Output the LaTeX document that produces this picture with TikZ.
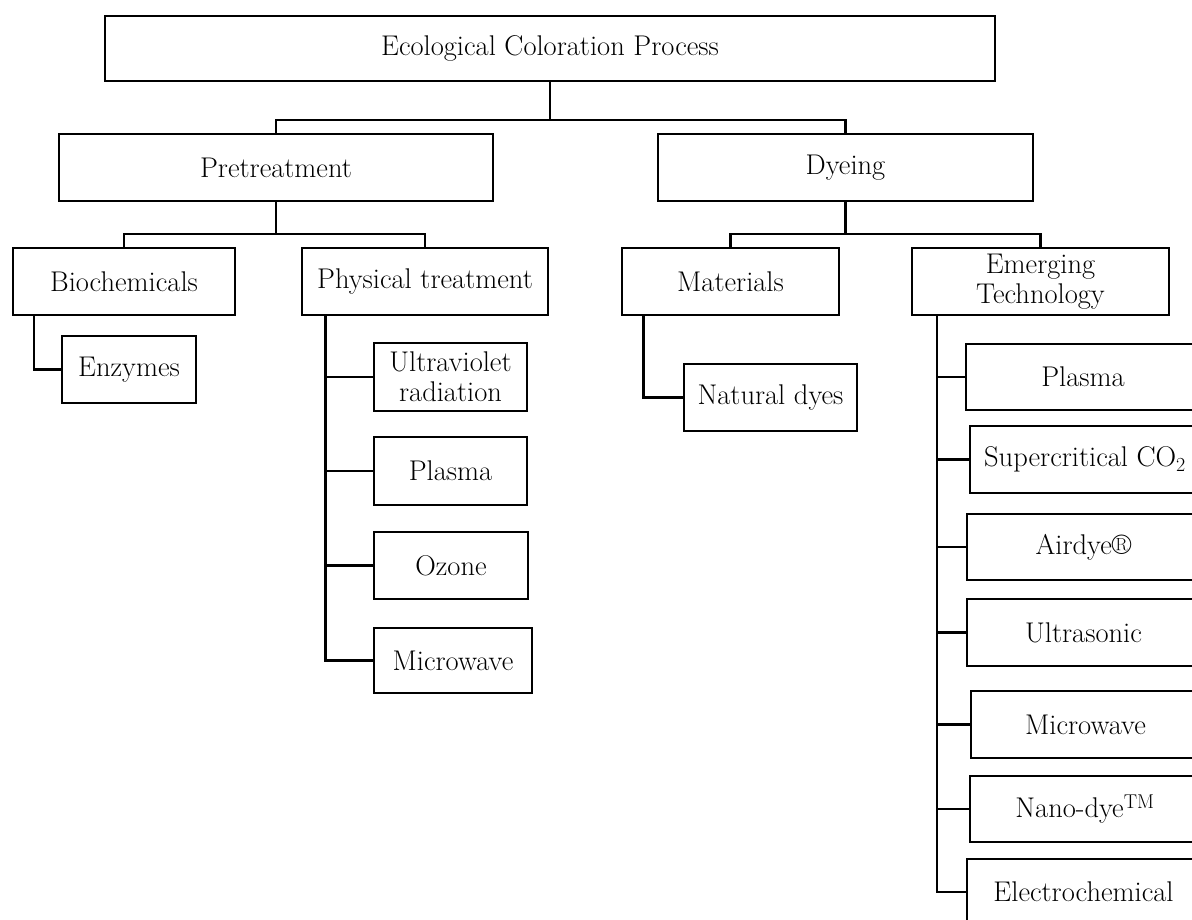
\documentclass[tikz,border=0pt]{standalone}
\usepackage{fontspec}
\begin{document}
\begin{tikzpicture}[x=1pt,y=-1pt,
  box/.style={draw,line width=2.4pt,rectangle,inner sep=0pt,align=center,
    font=\fontsize{28.5}{30}\selectfont,minimum height=67pt},
  conn/.style={line width=2.4pt}]
\useasboundingbox (0,0) rectangle (1192,920);
\clip (0,0) rectangle (1192,920);
\fill[white] (0,0) rectangle (1192,920);
% level 0
\node[box,minimum width=890pt,minimum height=65pt] (top) at (550,48.5) {Ecological Coloration Process};
% level 1
\node[box,minimum width=434pt] (pre) at (276,167.5) {Pretreatment};
\node[box,minimum width=375pt] (dye) at (845.5,167.5) {Dyeing};
% level 2
\node[box,minimum width=222pt] (bio) at (124,281.5) {Biochemicals};
\node[box,minimum width=246pt] (phy) at (425,281.5) {Physical treatment};
\node[box,minimum width=217pt] (mat) at (730.5,281.5) {Materials};
\node[box,minimum width=257pt] (emg) at (1040.5,281.5) {Emerging\\Technology};
% level 3
\node[box,minimum width=134pt] (enz) at (129,369.5) {Enzymes};
\node[box,minimum width=153pt,minimum height=68pt] (uv) at (450.5,377) {Ultraviolet\\radiation};
\node[box,minimum width=153pt,minimum height=68pt] (pla) at (450.5,471) {Plasma};
\node[box,minimum width=154pt] (ozo) at (451,565.5) {Ozone};
\node[box,minimum width=158pt,minimum height=65pt] (mic) at (453,660.5) {Microwave};
\node[box,minimum width=173pt] (nat) at (770.5,397.5) {Natural dyes};
% emerging technology list (boxes run past the right edge)
\node[box,minimum width=234pt,minimum height=66pt] (epla) at (1083,377) {Plasma};
\node[box,minimum width=230pt,minimum height=67pt] (esc) at (1085,459.5) {Supercritical CO\textsubscript{2}};
\node[box,minimum width=233pt,minimum height=66pt] (eair) at (1083.5,547) {Airdye\textregistered};
\node[box,minimum width=233pt,minimum height=67pt] (eult) at (1083.5,632.5) {Ultrasonic};
\node[box,minimum width=229pt,minimum height=67pt] (emic) at (1085.5,724.5) {Microwave};
\node[box,minimum width=230pt,minimum height=66pt] (enan) at (1085,809) {Nano-dye\textsuperscript{TM}};
\node[box,minimum width=233pt,minimum height=66pt] (eele) at (1083.5,892) {Electrochemical};
% buses
\coordinate (b1) at (550,120);
\coordinate (b2) at (276,234);
\coordinate (b3) at (845.5,234);
\draw[conn] (top.south) -- (b1);
\draw[conn] (pre.north) |- (b1) -| (dye.north);
\draw[conn] (pre.south) -- (b2);
\draw[conn] (bio.north) |- (b2) -| (phy.north);
\draw[conn] (dye.south) -- (b3);
\draw[conn] (mat.north) |- (b3) -| (emg.north);
% side branches
\draw[conn] ([xshift=22pt]bio.south west) |- (enz.west);
\foreach \n in {uv,pla,ozo,mic}
  \draw[conn] ([xshift=24.5pt]phy.south west) |- (\n.west);
\draw[conn] ([xshift=22.5pt]mat.south west) |- (nat.west);
\foreach \n in {epla,esc,eair,eult,emic,enan,eele}
  \draw[conn] ([xshift=26pt]emg.south west) |- (\n.west);
\end{tikzpicture}
\end{document}
